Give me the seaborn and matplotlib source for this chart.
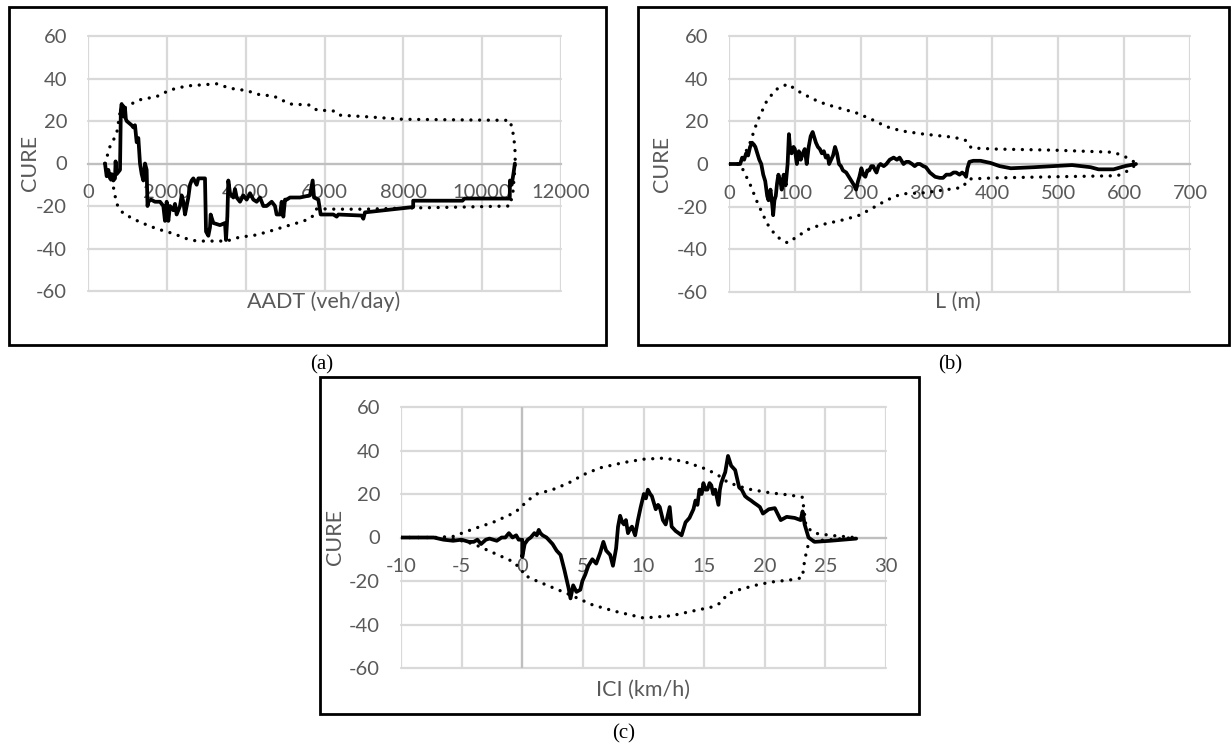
import numpy as np
import pandas as pd
import seaborn as sns
import matplotlib.pyplot as plt
from matplotlib.patches import Rectangle

# ---------------------------------------------------------------- data
# (a) CURE vs AADT
aadt_x = [431, 474, 516, 558, 600, 643, 685, 700, 727, 770, 812, 833, 854, 875, 896, 918, 939,
          960, 981, 1045, 1108, 1150, 1192, 1235, 1277, 1319, 1362, 1404, 1446, 1488, 1510,
          1531, 1600, 1700, 1827, 1911, 1953, 1996, 2038, 2080, 2165, 2207, 2249, 2334, 2376,
          2419, 2461, 2503, 2545, 2588, 2630, 2672, 2757, 2799, 2968, 2994, 3053, 3095, 3112,
          3180, 3349, 3476, 3501, 3535, 3560, 3603, 3687, 3729, 3772, 3856, 3941, 4025, 4110,
          4195, 4279, 4364, 4448, 4533, 4660, 4744, 4786, 4871, 4913, 4956, 4998, 5040, 5125,
          5378, 5632, 5700, 5734, 5844, 5903, 6224, 6309, 6351, 6943, 6985, 7027, 8250, 8250,
          9500, 9550, 10700, 10705, 10750, 10800, 10830]
aadt_cure = [0, -6, -3, -7, -5, -8, -7, 1, -5, -4, -3, 25, 28, 23, 27, 22, 26,
             21, 20, 19, 18, 17, 18, 10, 12, 0, -5, -8, 0, -3, -20,
             -18, -17, -18, -18, -20, -27, -18, -27, -20, -22, -19, -24, -20, -15,
             -18, -24, -20, -16, -10, -8, -7, -10, -7, -7, -32, -34, -30, -24,
             -28, -29, -28, -36, -25, -8, -14, -16, -12, -16, -18, -15, -17, -14,
             -17, -18, -16, -20, -20, -18, -20, -24, -24, -18, -25, -17, -17, -16,
             -16, -15, -8, -16, -17, -24, -24, -25, -24, -24.5, -26, -23, -20.5, -17.5,
             -17.5, -16.5, -16.5, -8, -10, -4, 0]
aadt_up_x = [431, 558, 727, 812, 981, 1319, 1742, 2080, 2503, 3264, 3603, 4025, 4364, 4702,
             5125, 5632, 5801, 6224, 6351, 7070, 8000, 10700, 10770, 10830, 10840]
aadt_up = [0, 8, 14, 24, 27, 30, 31.5, 34.6, 36.5, 37.5, 35.4, 34.3, 32.3, 31.8,
           28, 27.5, 25.2, 24.7, 22.8, 22, 20.8, 20.3, 16, 8, 0]
aadt_lo_x = [431, 643, 727, 896, 1319, 1742, 2165, 2503, 2757, 3518, 3856, 4195, 4533, 4956,
             5378, 5632, 5759, 5801, 6300, 7000, 8000, 9500, 10705, 10780, 10840]
aadt_lo = [0, -11, -19, -23.6, -27.6, -30.7, -33, -35.4, -36.5, -36.5, -34.6, -33.9, -32.3,
           -29.9, -27.6, -26, -23.6, -21.3, -21.5, -21.5, -21, -20.5, -20, -13.6, 0]

# (b) CURE vs L
len_x = [0, 17, 20, 23, 26, 29, 32, 35, 38, 40, 43, 46, 49, 52, 55, 58, 60, 63, 66, 67, 69, 71,
         73, 75, 78, 80, 83, 86, 89, 91, 93, 95, 98, 100, 103, 106, 109, 112, 115, 118, 121,
         124, 127, 130, 132, 135, 138, 141, 144, 147, 150, 152, 155, 158, 161, 164, 167, 170,
         173, 178, 184, 190, 193, 196, 198, 201, 204, 207, 210, 213, 216, 219, 222, 224, 227,
         230, 235, 239, 244, 250, 255, 259, 265, 269, 273, 278, 282, 286, 290, 295, 299, 305,
         313, 320, 325, 330, 336, 341, 345, 350, 354, 358, 360, 362, 365, 371, 382, 397, 411,
         428, 463, 492, 521, 549, 561, 584, 601, 618]
len_cure = [0, 0, 3, 2, 5, 4, 8, 10, 9, 8, 5, 2, 0, -5, -8, -15, -17, -12, -20, -24, -17, -15,
            -9, -5, -8, -12, -5, -10, 0, 14, 6, 5, 8, 7, 0, 6, 2, 5, 7, 0, 8,
            13, 15, 12, 10, 8, 7, 5, 6, 3, 4, 0, 2, 4, 8, 5, 0, -1,
            -3, -4, -7, -10, -12, -8, -6, -2, -5, -6, -3, -3, -1, -1, -3, -4, -1,
            0, -1, 0, 2, 3, 2, 3, 0, 1, 1, 0, -1, 0, 0, -1, -1.5, -4,
            -6, -6.5, -6.5, -5, -5, -4, -4, -5, -4, -5, -6, -2, 1, 1.5, 1.5, 0.5, -1,
            -2, -1.5, -1, -0.5, -1.5, -2.5, -2.5, -1, 0]
len_up_x = [0, 17, 32, 43, 58, 72, 89, 106, 127, 147, 170, 193, 216, 239, 262, 296, 342, 360,
            368, 406, 492, 584, 601, 615, 620]
len_up = [0, 0, 10, 20, 30, 35, 37.5, 34, 30.5, 28, 26, 24, 21, 17.5, 15.5, 14, 12.5, 11,
          7.5, 7, 6.5, 5.5, 3.5, 1, 0]
len_lo_x = [0, 17, 32, 43, 58, 72, 89, 106, 124, 147, 176, 198, 216, 239, 262, 296, 331, 354,
            365, 406, 492, 590, 607, 615, 620]
len_lo = [0, 0, -9.5, -18, -28, -34, -37, -33.5, -30, -28, -26, -24, -21, -17, -14, -13.5,
          -12, -11, -7, -6.5, -6, -5.5, -3, -1, 0]

# (c) CURE vs ICI
ici_x = [-10, -7.3, -6.5, -5.7, -5.0, -4.4, -4.0, -3.7, -3.4, -3.0, -2.7, -2.4, -2.1, -1.7,
         -1.4, -1.1, -0.8, -0.5, -0.3, 0.0, 0.0, 0.2, 0.45, 0.7, 1.0, 1.2, 1.36, 1.5, 1.68, 2.0,
         2.5, 2.83, 3.16, 3.48, 3.81, 3.98, 4.2, 4.47, 4.79, 4.96, 5.2, 5.45, 5.78, 6.1, 6.43,
         6.69, 6.92, 7.25, 7.48, 7.74, 7.9, 8.07, 8.25, 8.39, 8.55, 8.72, 8.9, 9.05, 9.31, 9.54,
         9.77, 10.03, 10.2, 10.36, 10.55, 10.69, 11.01, 11.2, 11.34, 11.6, 11.83, 12.16, 12.32,
         12.65, 12.9, 13.14, 13.47, 13.79, 14.12, 14.29, 14.45, 14.61, 14.8, 14.94, 15.1, 15.27,
         15.45, 15.59, 15.75, 15.92, 16.18, 16.3, 16.41, 16.6, 16.74, 16.97, 17.23, 17.56,
         17.89, 18.1, 18.38, 18.6, 18.87, 19.1, 19.36, 19.6, 19.85, 20.34, 20.83, 21.32, 21.81,
         22.47, 22.96, 23.12, 23.29, 23.61, 24.1, 25.41, 27.54]
ici_cure = [0, 0, -1, -1.5, -1, -2, -2, -1, -3, -1, -0.5, -1, -1.5, 0,
            0, 2, 0, 1, -1, -1, -9, -3, -1, 0, 2, 1, 3.5, 2, 1, 0,
            -3, -6, -8, -15, -23, -28, -22, -25, -24, -20, -17, -13, -10, -12, -7,
            -2, -6, -8, -13, -5, 5, 10, 7, 6, 8, 2, 4, 5, 1, 8,
            14, 20, 18, 22, 20, 19, 13, 15, 14, 8, 6, 14, 5,
            3, 2, 1, 7, 9, 13, 17, 15, 22, 20, 25, 22, 22,
            25, 24, 20, 22, 15, 22, 25, 28, 30, 37.5, 33, 31,
            23, 22, 19, 18, 17, 16, 15, 14, 11, 13, 13.5, 8, 9.5,
            9, 8, 12, 6, 0, -2, -1.5, -0.5]
ici_up_x = [-10, -7.3, -5.7, -4.0, -2.4, -0.8, 0.0, 0.2, 1.2, 2.5, 3.8, 5.1, 6.4, 8.4, 10.0,
            11.7, 13.3, 14.9, 15.9, 16.6, 16.9, 17.9, 18.9, 20.5, 22.1, 23.1, 23.3, 23.4, 24.1,
            25.4, 27.4]
ici_up = [0, 0, 0.5, 4, 7, 11, 14, 16, 20, 22, 25, 29, 32, 34.5, 36,
          36.5, 35, 32, 29.5, 27, 25.5, 23.5, 22, 20.5, 19.5, 18.5, 10, 5, 2,
          1, 0]
ici_lo_x = [-10, -7.3, -5.7, -4.0, -2.4, -0.8, 0.0, 0.05, 1.2, 2.5, 3.8, 5.8, 7.7, 10.0, 12.3,
            13.9, 15.6, 16.4, 16.9, 17.9, 19.2, 20.5, 22.1, 23.1, 23.3, 23.6, 24.1, 25.4, 27.4]
ici_lo = [0, 0, -0.5, -3, -7, -11, -15, -17, -20, -23, -26, -31, -34, -37, -36,
          -34, -32, -30, -26, -24, -22, -20.5, -19.5, -18.5, -10, -3, -1.5, -1, 0]

# ---------------------------------------------------------------- figure
W, H = 1231, 749
sns.set_theme(style="white")
plt.rcParams['font.family'] = ['Lato', 'DejaVu Sans']
plt.rcParams['axes.unicode_minus'] = False

fig = plt.figure(figsize=(W / 100, H / 100), dpi=100)

TEXT = '#595959'
GRID = '#d9d9d9'
AXIS = '#bfbfbf'


def add_panel_frame(l, t, r, b):
    fig.add_artist(Rectangle((l / W, 1 - b / H), (r - l) / W, (b - t) / H,
                             transform=fig.transFigure, fill=False,
                             edgecolor='black', linewidth=2.0))


def make_axes(l, t, r, b):
    return fig.add_axes([l / W, 1 - b / H, (r - l) / W, (b - t) / H])


def style_axes(ax, xlim, xticks, vaxis_at_zero=False):
    ax.set_xlim(*xlim)
    ax.set_ylim(-60, 60)
    ax.set_xticks(xticks)
    ax.set_yticks(range(-60, 61, 20))
    ax.set_xticklabels([str(v) for v in xticks])
    ax.grid(True, color=GRID, linewidth=1.6)
    ax.set_axisbelow(True)
    for gl in ax.get_xgridlines() + ax.get_ygridlines():
        gl.set_clip_on(False)
    for s in ('top', 'right', 'left'):
        ax.spines[s].set_visible(False)
    ax.spines['bottom'].set_position(('data', 0))
    ax.spines['bottom'].set_color(AXIS)
    ax.spines['bottom'].set_linewidth(1.6)
    ax.tick_params(axis='x', length=0, pad=15, labelsize=14.5, labelcolor=TEXT)
    ax.tick_params(axis='y', length=0, pad=15, labelsize=14.5, labelcolor=TEXT)
    ax.set_facecolor('none')
    if vaxis_at_zero:
        ax.axvline(0, color=AXIS, linewidth=1.6, zorder=0.8)
    ax.set_xlabel('')
    ax.set_ylabel('')


def draw_cure(ax, x, y, xu, yu, xl, yl):
    for bx, by in ((xu, yu), (xl, yl)):
        sns.lineplot(x=bx, y=by, ax=ax, sort=False, estimator=None, color='black',
                     linewidth=2.4)
        ln = ax.lines[-1]
        ln.set_linestyle((0, (0.01, 2.6)))
        ln.set_dash_capstyle('round')
        ln.set_zorder(3)
    sns.lineplot(x=x, y=y, ax=ax, sort=False, estimator=None, color='black',
                 linewidth=2.7)
    ax.lines[-1].set_zorder(4)


# panel frames
add_panel_frame(9, 7, 606, 345)
add_panel_frame(638, 7, 1229, 345)
add_panel_frame(320, 377, 919, 714)

# (a)
ax_a = make_axes(88, 36, 561, 291)
style_axes(ax_a, (0, 12000), list(range(0, 12001, 2000)))
draw_cure(ax_a, aadt_x, aadt_cure, aadt_up_x, aadt_up, aadt_lo_x, aadt_lo)

# (b)
ax_b = make_axes(729, 36, 1190, 292)
style_axes(ax_b, (0, 700), list(range(0, 701, 100)))
draw_cure(ax_b, len_x, len_cure, len_up_x, len_up, len_lo_x, len_lo)

# (c)
ax_c = make_axes(401, 407, 886, 668)
style_axes(ax_c, (-10, 30), list(range(-10, 31, 5)), vaxis_at_zero=True)
draw_cure(ax_c, ici_x, ici_cure, ici_up_x, ici_up, ici_lo_x, ici_lo)

# axis titles
def ftext(px, py, s, **kw):
    fig.text(px / W, 1 - py / H, s, ha='center', va='center', **kw)

for px, py in ((30, 163), (662, 164), (335, 537)):
    ftext(px, py, 'CURE', rotation=90, fontsize=15.5, color=TEXT)
ftext(324, 302, 'AADT (veh/day)', fontsize=15.5, color=TEXT)
ftext(958, 302, 'L (m)', fontsize=15.5, color=TEXT)
ftext(643, 690, 'ICI (km/h)', fontsize=15.5, color=TEXT)

# panel captions
for px, py, s in ((322, 365, '(a)'), (950, 365, '(b)'), (624, 734, '(c)')):
    ftext(px, py, s, fontsize=15, color='black', family=['Liberation Serif', 'DejaVu Serif'])

fig.savefig('out.png', dpi=100)
